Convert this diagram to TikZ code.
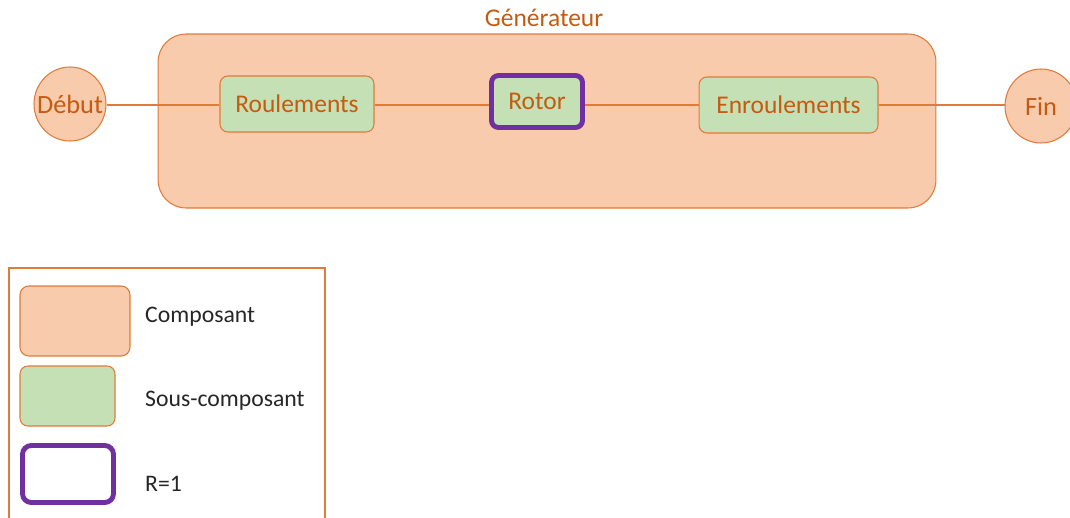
\documentclass[tikz,border=0pt]{standalone}
\usepackage{fontspec}
\setmainfont{Carlito}
\usetikzlibrary{positioning,shapes.geometric}
\definecolor{Peach}{HTML}{F8CBAD}
\definecolor{Edge}{HTML}{E07B39}
\definecolor{Rust}{HTML}{C55A11}
\definecolor{Leaf}{HTML}{C5E0B4}
\definecolor{Plum}{HTML}{7030A0}
\definecolor{Ink}{HTML}{262626}

\begin{document}
\begin{tikzpicture}[x=0.02cm,y=-0.02cm,
    comp/.style={rounded corners=0.56cm,draw=Edge,line width=0.6pt,fill=Peach},
    sub/.style={rounded corners=4.5pt,draw=Edge,line width=0.6pt,fill=Leaf,
      minimum height=1.12cm,font=\fontsize{14.5}{16}\selectfont,text=Rust},
    crit/.style={draw=Plum,line width=2.8pt},
    term/.style={ellipse,draw=Edge,line width=0.6pt,fill=Peach,inner sep=0pt,
      minimum width=1.44cm,minimum height=1.48cm,
      label={[font=\fontsize{15}{17}\selectfont,text=Rust]center:#1}},
    link/.style={Edge,line width=0.6pt},
    legtxt/.style={anchor=west,font=\fontsize{13.5}{15}\selectfont,text=Ink}
  ]
    \clip (0,0) rectangle (1070,517);
    \useasboundingbox (0,0) rectangle (1070,517);
    % composant
    \node[comp,minimum width=15.56cm,minimum height=3.48cm] (gen) at (547,121) {};
    \node[font=\fontsize{14.5}{16}\selectfont,text=Rust] (genlbl) at (544,18) {Générateur};
    % sous-composants
    \node[sub,minimum width=3.08cm] (roul) at (297,104) {Roulements};
    \node[sub,crit,minimum width=1.82cm,minimum height=1.04cm,rounded corners=4pt] (rotor) at (537,101.5) {Rotor};
    \node[sub,minimum width=3.58cm] (enr) at (788.5,105) {Enroulements};
    \node[term=Début] (debut) at (70,104) {};
    \node[term=Fin] (fin) at (1041,106) {};
    \coordinate (fil) at (0,105);
    \foreach \a/\b in {debut/roul,roul/rotor,rotor/enr,enr/fin}
      \draw[link](\a.east |- fil)--(\b.west |- fil);
    % legende
    \draw[link] (9,268) rectangle (325,530);
    \node[comp,rounded corners=5pt,minimum width=2.2cm,minimum height=1.4cm] (legcomp) at (75,321) {};
    \node[sub,minimum width=1.9cm,minimum height=1.2cm] (legsub) at (67.5,396) {};
    \node[crit,fill=white,rounded corners=5pt,minimum width=1.82cm,minimum height=1.14cm] (legcrit) at (68,474) {};
    \node[legtxt] (txtcomp) at (139,317) {Composant};
    \node[legtxt] (txtsub) at (139,401) {Sous-composant};
    \node[legtxt] (txtcrit) at (139,484) {R=1};
  \end{tikzpicture}
\end{document}
